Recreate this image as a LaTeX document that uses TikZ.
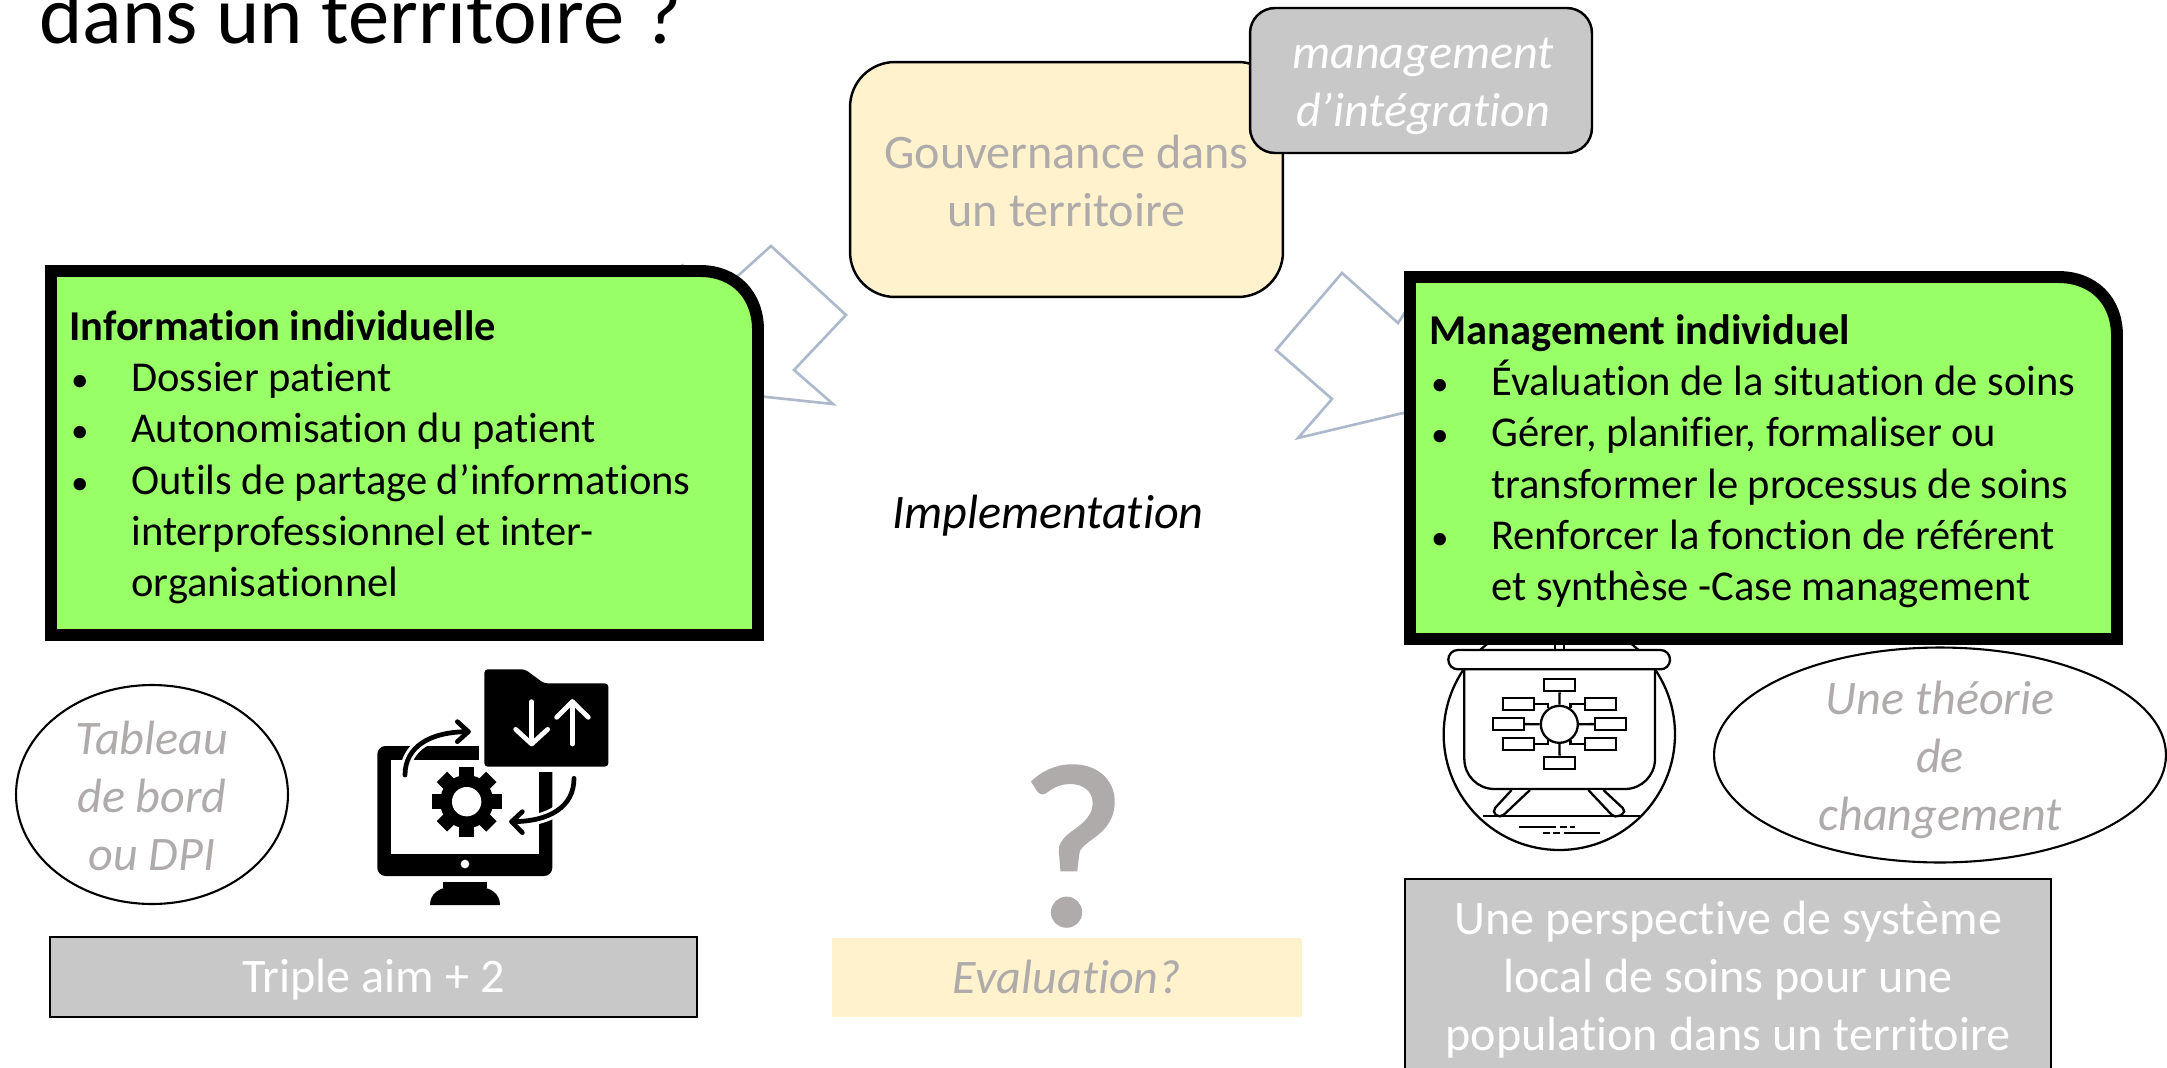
\documentclass[tikz,border=0pt]{standalone}
\usepackage{fontspec}
\setmainfont{Carlito}[Ligatures=NoCommon]
\newfontfamily\heavyfont{Carlito}[FakeBold=1.5]
\usetikzlibrary{shapes.geometric}
\definecolor{boxgreen}{HTML}{99FF66}
\definecolor{boxcream}{HTML}{FFF2CC}
\definecolor{boxgray}{HTML}{C8C8C8}
\definecolor{textgray}{HTML}{AFABAB}
\definecolor{boltblue}{HTML}{ADB9CA}
\newenvironment{soinslist}{\begin{list}{\fontsize{20}{20}\selectfont\textbullet}{\setlength{\leftmargin}{35.3pt}\setlength{\labelwidth}{11pt}\setlength{\labelsep}{24.3pt}\setlength{\itemsep}{0pt}\setlength{\parsep}{0pt}\setlength{\topsep}{0pt}\setlength{\partopsep}{0pt}}}{\end{list}}
\tikzset{
  bodytext/.style={inner sep=0, anchor=north west, align=flush left, text width=14cm, font=\fontsize{24.2}{29.1}\selectfont},
  bigtext/.style={align=center, font=\fontsize{27.4}{33}\selectfont},
  italtext/.style={align=center, font=\fontsize{27.4}{33}\selectfont\itshape},
  greenbox/.style={draw=black, fill=boxgreen, line width=6.8pt, miter limit=10},
  bolt/.style={draw=boltblue, line width=1.5pt},
  softbox/.style={draw=black, line width=1.4pt, rounded corners=0.9cm, inner sep=0},
  graybox/.style={draw=black, fill=boxgray, line width=1.2pt, bigtext, text=white, inner sep=0},
  bubble/.style={ellipse, draw=black, line width=1.2pt, italtext, text=textgray, inner sep=0},
  iconline/.style={line width=2.7pt, line cap=round, line join=round},
  iconhalo/.style={line width=6pt, draw=white},
  chartline/.style={line width=1.3pt},
  chartbox/.style={rectangle, draw=black, chartline, fill=white, minimum width=0.62cm, minimum height=0.24cm, inner sep=0},
}
\begin{document}
\begin{tikzpicture}[x=0.02cm, y=-0.02cm]
\path[use as bounding box, clip] (0,0) rectangle (2167,1068);

\node [anchor=base west, inner sep=0, font=\fontsize{47}{50}\selectfont] (title) at (39,44) {dans un territoire ?};

% bolts behind the boxes
\draw [bolt] (682,264) -- (700,310) -- (771,246) -- (846,315) -- (794,370) -- (833,404) -- (700,390);
\draw [bolt] (1410,305) -- (1398,323) -- (1342,273) -- (1276,350) -- (1332,399) -- (1298,438) -- (1420,409);

\node [softbox, fill=boxcream, minimum width=8.66cm, minimum height=4.7cm] (gouv) at (1066.5,179.5) {};
\node [bigtext, text=textgray] (gouvtext) at (1066.5,181) {Gouvernance dans\\un territoire};
\node [softbox, fill=boxgray, rounded corners=0.5cm, minimum width=6.84cm, minimum height=2.9cm] (mgmt) at (1421,80.5) {};
\node [italtext, text=white] (mgmttext) at (1423,86.5) {management\\d’intégration};

% chart icon, goes under the green box
\begin{scope}[shift={(1420,630)}, scale=1/3]
\draw [chartline, fill=white] (418,313) circle (347);
\draw [chartline] (405,40) -- (405,60);
\draw [chartline] (432,40) -- (432,60);
\draw [chartline, fill=white, rounded corners=0.6cm] (133,100) -- (133,477) -- (705,477) -- (705,100);
\draw [chartline, fill=white, rounded corners=5.4pt] (85,60) rectangle (750,118);
\draw [chartline, fill=white, rounded corners=3pt] (275,480) -- (215,545) -- (240,565) -- (330,480);
\draw [chartline, fill=white, rounded corners=3pt] (505,480) -- (585,565) -- (620,545) -- (550,480);
\draw [chartline] (190,558) -- (660,558);
\draw [chartline] (298,590) -- (408,590);
\draw [chartline] (420,590) -- (440,590);
\draw [chartline] (450,590) -- (465,590);
\draw [chartline] (370,610) -- (390,610);
\draw [chartline] (400,610) -- (420,610);
\draw [chartline] (432,610) -- (540,610);
\node [circle, draw=black, chartline, fill=white, minimum size=0.74cm, inner sep=0] (hub) at (418,283) {};
\node [chartbox] (b1) at (419,166) {};
\node [chartbox] (b2) at (419,398) {};
\node [chartbox] (b3) at (295,221) {};
\node [chartbox] (b4) at (265,282) {};
\node [chartbox] (b5) at (295,343) {};
\node [chartbox] (b6) at (542,221) {};
\node [chartbox] (b7) at (572,282) {};
\node [chartbox] (b8) at (542,343) {};
\draw [chartline] (b1) -- (hub);
\draw [chartline] (b2) -- (hub);
\draw [chartline] (b4) -- (hub);
\draw [chartline] (b7) -- (hub);
\draw [chartline] (b3.east) -| (hub.125);
\draw [chartline] (b5.east) -| (hub.235);
\draw [chartline] (b6.west) -| (hub.55);
\draw [chartline] (b8.west) -| (hub.305);
\end{scope}

% green boxes
\draw [greenbox] (51,271) -- (700,271) .. controls (735,271) and (758,295) .. (758,330) -- (758,635) -- (51,635) -- cycle;
\draw [greenbox] (1410,277) -- (2058,277) .. controls (2093,277) and (2117,300) .. (2117,336) -- (2117,639) -- (1410,639) -- cycle;

\node [bodytext] (info) at (69,310.5) {\textbf{Information individuelle}
\begin{soinslist}
\item Dossier patient
\item Autonomisation du patient
\item Outils de partage d’informations\\interprofessionnel et inter-\\organisationnel
\end{soinslist}};
\node [bodytext] (manag) at (1429,314.5) {\textbf{Management individuel}
\begin{soinslist}
\item Évaluation de la situation de soins
\item Gérer, planifier, formaliser ou\\transformer le processus de soins
\item Renforcer la fonction de référent\\et synthèse -Case management
\end{soinslist}};

\node [italtext] (impl) at (1048,516) {Implementation};

\node [bubble, minimum width=5.44cm, minimum height=4.38cm] (tableau) at (152,794.5) {};
\node [italtext, text=textgray] (tableautext) at (152,796) {Tableau\\de bord\\ou DPI};
\node [bubble, minimum width=9.04cm, minimum height=4.3cm] (theorie) at (1940,755) {};
\node [italtext, text=textgray] (theorietext) at (1940,760) {Une théorie\\de\\changement};

% computer icon
\begin{scope}[shift={(340,640)}, scale=1/3]
\fill [rounded corners=4.7pt] (112,318) rectangle (637,708);
\fill [white] (153,360) rectangle (597,643);
\fill [white] (375,672) circle (13);
\fill (310,725) rectangle (440,745);
\fill (270,795) .. controls (270,760) and (300,742) .. (330,742) -- (420,742) .. controls (450,742) and (480,760) .. (480,795) -- cycle;
\draw [iconhalo, line join=round] (433,100) -- (555,88) -- (612,130) -- (805,130) -- (805,380) -- (433,380) -- cycle;
\fill [rounded corners=2pt] (433,88) -- (555,88) -- (612,130) -- (805,130) -- (805,380) -- (433,380) -- cycle;
\draw [iconline, draw=white] (575,185) -- (575,310);
\draw [iconline, draw=white] (527,268) -- (575,312) -- (623,268);
\draw [iconline, draw=white] (697,185) -- (697,312);
\draw [iconline, draw=white] (650,232) -- (697,185) -- (745,232);
\draw [iconhalo] (195,405) .. controls (195,320) and (270,275) .. (385,275);
\draw [iconhalo] (702,415) .. controls (702,500) and (630,545) .. (515,545);
\draw [iconline] (195,405) .. controls (195,320) and (270,275) .. (385,275);
\draw [iconline] (352,245) -- (385,275) -- (352,305);
\draw [iconline] (702,415) .. controls (702,500) and (630,545) .. (515,545);
\draw [iconline] (547,515) -- (515,545) -- (547,578);
\fill (380,485) circle (80);
\foreach \a in {0,45,90,135}
  \fill [rotate around={\a:(380,485)}] (358,380) rectangle (402,590);
\fill [white] (380,485) circle (44);
\end{scope}

\node [font=\heavyfont\fontsize{132}{132}\selectfont, text=textgray, inner sep=0] (qmark) at (1073,846) {?};

\node [graybox, minimum width=12.94cm, minimum height=1.6cm] (triple) at (373.5,977) {};
\node [bigtext, text=white] (tripletext) at (373.5,980) {Triple aim + 2};
\node [fill=boxcream, inner sep=0, minimum width=9.4cm, minimum height=1.58cm] (evalu) at (1067,977.5) {};
\node [italtext, text=textgray] (evalutext) at (1067,977) {Evaluation?};
\node [graybox, minimum width=12.92cm, minimum height=3.92cm] (perspec) at (1728,977) {};
\node [bigtext, text=white] (perspectext) at (1728,980) {Une perspective de système\\local de soins pour une\\population dans un territoire};
\end{tikzpicture}
\end{document}
